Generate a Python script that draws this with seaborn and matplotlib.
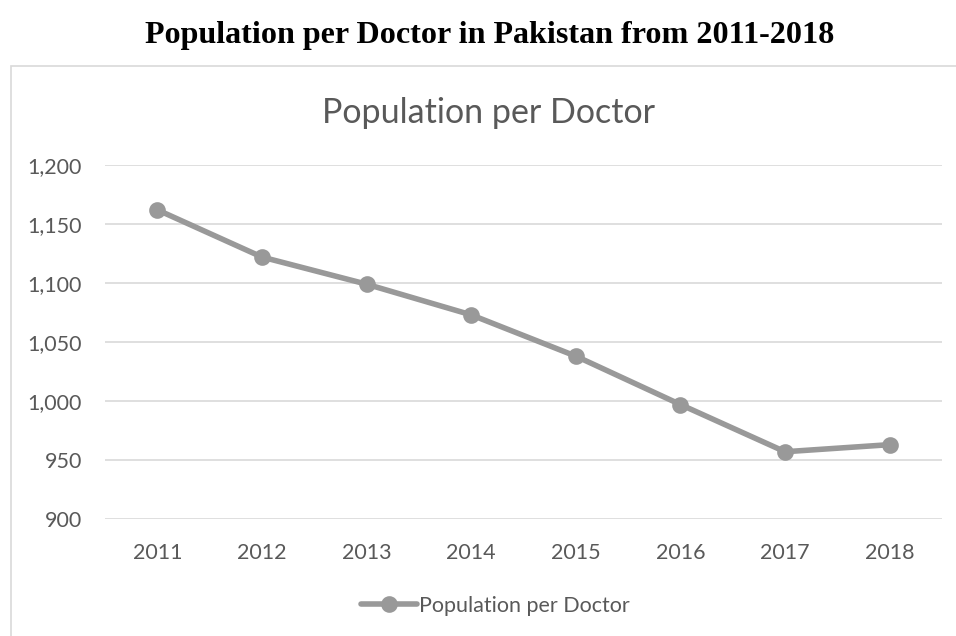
import matplotlib
matplotlib.use("Agg")
import matplotlib.pyplot as plt
from matplotlib.patches import Rectangle
import seaborn as sns
import pandas as pd

years = ["2011", "2012", "2013", "2014", "2015", "2016", "2017", "2018"]
population_per_doctor = [1162, 1122, 1099, 1073, 1038, 997, 957, 963]
y_ticks = [900, 950, 1000, 1050, 1100, 1150, 1200]
series_name = "Population per Doctor"

sns.set_theme(style="white")
plt.rcParams["font.family"] = ["Lato", "DejaVu Sans"]

W, H = 956, 636
fig = plt.figure(figsize=(W / 100, H / 100), dpi=100)
fig.patch.set_facecolor("white")

# chart frame
frame = Rectangle((11 / W, -0.1), 1.2, 1 - 66 / H + 0.1, transform=fig.transFigure,
                  fill=False, edgecolor="#d9d9d9", linewidth=1.2, zorder=0)
fig.add_artist(frame)

ax_left, ax_right, ax_top, ax_bottom = 105, 942, 165, 519
ax = fig.add_axes([ax_left / W, 1 - ax_bottom / H, (ax_right - ax_left) / W,
                   (ax_bottom - ax_top) / H])
ax.set_facecolor("none")

df = pd.DataFrame({"Year": years, "Value": population_per_doctor})
line_color = "#999999"
sns.pointplot(data=df, x="Year", y="Value", ax=ax, color=line_color,
              markers="o", linestyles="-", markersize=9, linewidth=4,
              label=series_name, errorbar=None)

ax.set_ylim(900, 1200)
ax.set_xlim(-0.5, len(years) - 0.5)
ax.set_yticks(y_ticks)
ax.set_yticklabels([f"{v:,}" for v in y_ticks])
ax.yaxis.grid(True, color="#d9d9d9", linewidth=1.2)
ax.xaxis.grid(False)
ax.set_axisbelow(True)
for s in ax.spines.values():
    s.set_visible(False)
ax.tick_params(axis="both", length=0, labelsize=15.5, labelcolor="#595959")
ax.tick_params(axis="y", pad=16.5)
ax.tick_params(axis="x", pad=17.5)
ax.set_xlabel("")
ax.set_ylabel("")

leg_x = (495 - ax_left) / (ax_right - ax_left)
leg_y = -(606 - ax_bottom) / (ax_bottom - ax_top)
leg = ax.legend(loc="center", bbox_to_anchor=(leg_x, leg_y),
                frameon=False, fontsize=15.5, handlelength=2.6, handletextpad=0.1)
for t in leg.get_texts():
    t.set_color("#595959")

fig.text(489 / W, 1 - 113 / H, "Population per Doctor", ha="center", va="center",
         fontsize=24.5, color="#595959")
fig.text(490 / W, 1 - 36 / H, "Population per Doctor in Pakistan from 2011-2018",
         ha="center", va="center", fontsize=23.1, fontweight="bold",
         family=["Liberation Serif", "DejaVu Serif"], color="black")

fig.savefig("out.png", dpi=100)
